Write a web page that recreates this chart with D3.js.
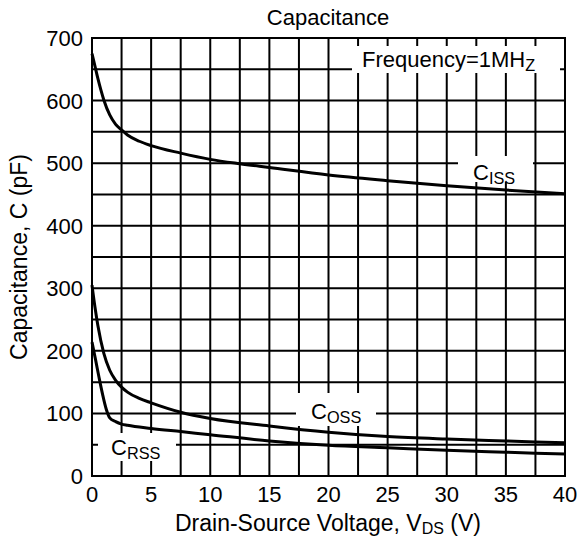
<!DOCTYPE html>
<html><head><meta charset="utf-8">
<script src="https://cdn.jsdelivr.net/npm/d3@7"></script>
<style>body{margin:0;background:#fff}svg{display:block;font-family:"Liberation Sans",Arial,sans-serif}</style>
</head><body><svg id="c" width="580" height="541"></svg>
<script>
const xTicks = [0,5,10,15,20,25,30,35,40];
const yTicks = [0,100,200,300,400,500,600,700];
const cissV = [0,0.25,0.5,0.75,1,1.5,2,2.5,3,4,5,7.5,10,12.5,15,20,25,30,35,40];
const cissC = [675,655,635,617,601,577,562,553,545,535,528,516,506,499,493,481,472,464,457,451];
const cossV = [0,0.25,0.5,1,1.5,2,2.5,3,4,5,7.5,10,15,20,25,30,35,40];
const cossC = [305,270,240,196,169,153,142,134,124,117,102,92,80,70,63,59,56,53];
const crssV = [0,0.3,0.6,0.9,1.2,1.5,2,2.5,3,5,7.5,10,15,20,25,30,35,40];
const crssC = [214,186,157,130,107,93,87,83,81,76,71,66,56,49,45,41,38,35];

const svg = d3.select('#c');
const x = d3.scaleLinear().domain([0,40]).range([92,565]);
const y = d3.scaleLinear().domain([0,700]).range([476,38]);

// grid
const g = svg.append('g').attr('stroke','#000').attr('stroke-width',2);
d3.range(0,40.01,2.5).forEach(v=>g.append('line').attr('x1',x(v)).attr('x2',x(v)).attr('y1',y(0)).attr('y2',y(700)));
d3.range(0,700.01,50).forEach(v=>g.append('line').attr('x1',x(0)).attr('x2',x(40)).attr('y1',y(v)).attr('y2',y(v)));
svg.append('rect').attr('x',x(0)).attr('y',y(700)).attr('width',x(40)-x(0)).attr('height',y(0)-y(700))
  .attr('fill','none').attr('stroke','#000').attr('stroke-width',2);

// curves
const line = d3.line().x(d=>x(d[0])).y(d=>y(d[1])).curve(d3.curveMonotoneX);
[[cissV,cissC],[cossV,cossC],[crssV,crssC]].forEach(([v,c])=>{
  svg.append('path').attr('d',line(v.map((vv,i)=>[vv,c[i]]))).attr('fill','none').attr('stroke','#000').attr('stroke-width',3);
});

// label boxes
function lab(bx,by,bw,bh,tx,ty,main,sub,fs){
  svg.append('rect').attr('x',bx).attr('y',by).attr('width',bw).attr('height',bh).attr('fill','#fff');
  const t = svg.append('text').attr('x',tx).attr('y',ty).attr('font-size',fs).attr('fill','#000');
  t.append('tspan').text(main);
  t.append('tspan').attr('font-size',fs*0.74).attr('dy',4).text(sub);
}
lab(352,46,208,27,362,67,'Frequency=1MH','Z',22);
lab(458,156,75,26,473,180,'C','ISS',22);
lab(296,393,80,33,311,419,'C','OSS',22);
lab(98,433,78,28,111,455,'C','RSS',22);

// axes labels
const tl = svg.append('g').attr('font-size',22).attr('fill','#000');
xTicks.forEach(v=>tl.append('text').attr('x',x(v)).attr('y',502).attr('text-anchor','middle').text(v));
yTicks.forEach(v=>tl.append('text').attr('x',83).attr('y',y(v)+8).attr('text-anchor','end').text(v));

svg.append('text').attr('x',328).attr('y',25).attr('text-anchor','middle').attr('font-size',22).text('Capacitance');
const xl = svg.append('text').attr('x',328).attr('y',531).attr('text-anchor','middle').attr('font-size',23);
xl.append('tspan').text('Drain-Source Voltage, V');
xl.append('tspan').attr('font-size',16).attr('dy',3).text('DS');
xl.append('tspan').attr('dy',-3).text(' (V)');
svg.append('text').attr('transform','translate(27,257) rotate(-90)').attr('text-anchor','middle').attr('font-size',23).text('Capacitance, C (pF)');
</script></body></html>
